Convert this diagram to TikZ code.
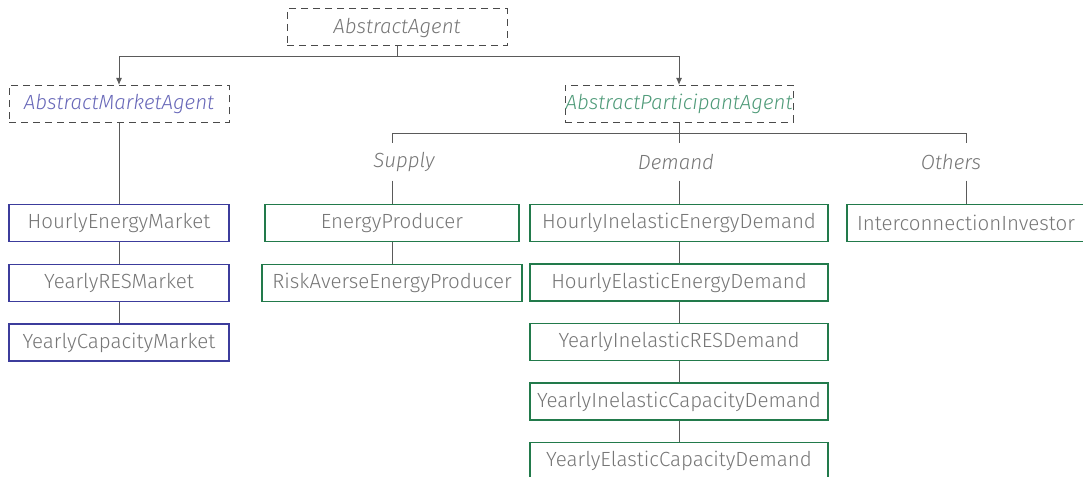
\documentclass[tikz,border=0pt]{standalone}
\usepackage{fontspec}
\setmainfont{Fira Sans}[UprightFont=* Light, ItalicFont=* Light Italic]
\usetikzlibrary{arrows.meta}
\definecolor{txtgray}{HTML}{767676}
\definecolor{dashgray}{HTML}{4A4A4A}
\definecolor{linegray}{HTML}{5A5A5A}
\definecolor{mktblue}{HTML}{3C3C9C}
\definecolor{mkttext}{HTML}{6767B8}
\definecolor{partgreen}{HTML}{227A4B}
\definecolor{parttext}{HTML}{4E9A78}
\newcommand{\boxfont}{\fontsize{20.5}{24}\selectfont}
\begin{document}
\begin{tikzpicture}[x=1pt,y=-1pt,>={Latex[length=7pt,width=6pt]},
    abstractbox/.style={draw=dashgray,line width=1pt,dash pattern=on 7pt off 5pt,minimum height=37pt,inner sep=0pt,font=\boxfont\itshape},
    marketbox/.style={draw=mktblue,line width=1.5pt,minimum height=37pt,inner sep=0pt,text=txtgray,font=\boxfont},
    agentbox/.style={draw=partgreen,line width=1.5pt,minimum height=37pt,inner sep=0pt,text=txtgray,font=\boxfont},
    grouplabel/.style={minimum height=37pt,inner sep=0pt,text=txtgray,font=\boxfont\itshape},
    link/.style={draw=linegray,line width=1pt}]
\useasboundingbox (0,0) rectangle (1083,476);
% abstract classes
\node[abstractbox,text=txtgray,minimum width=220pt] (agent) at (397,27.5){AbstractAgent};
\node[abstractbox,text=mkttext,minimum width=220pt] (market) at (119,104){AbstractMarketAgent};
\node[abstractbox,text=parttext,minimum width=228pt] (part) at (679,104){AbstractParticipantAgent};
\coordinate (split1) at (397,57);
\coordinate (split2) at (679,133);
\draw[link,->] (agent.south)--(split1)-|(market.north);
\draw[link,->] (split1)-|(part.north);
% markets
\node[marketbox,minimum width=220pt] (hem) at (119,223){HourlyEnergyMarket};
\node[marketbox,minimum width=220pt] (yrm) at (119,283){YearlyRESMarket};
\node[marketbox,minimum width=220pt] (ycm) at (119,342.5){YearlyCapacityMarket};
\draw[link] (market)--(hem);
\draw[link] (hem)--(yrm);
\draw[link] (yrm)--(ycm);
% participants
\node[grouplabel] (supply) at (404,162){Supply};
\node[grouplabel] (demand) at (676,162){Demand};
\node[grouplabel] (others) at (951,162){Others};
\node[agentbox,minimum width=254pt] (ep) at (392,223){EnergyProducer};
\node[agentbox,minimum width=260pt] (raep) at (392,283){RiskAverseEnergyProducer};
\node[agentbox,minimum width=298pt] (d1) at (679,223){HourlyInelasticEnergyDemand};
\node[agentbox,minimum width=298pt] (d2) at (679,282.5){HourlyElasticEnergyDemand};
\node[agentbox,minimum width=298pt] (d3) at (679,342){YearlyInelasticRESDemand};
\node[agentbox,minimum width=298pt] (d4) at (679,401.5){YearlyInelasticCapacityDemand};
\node[agentbox,minimum width=298pt] (d5) at (679,461){YearlyElasticCapacityDemand};
\node[agentbox,minimum width=238pt] (inv) at (966,223){InterconnectionInvestor};
\draw[link] (part.south)--(split2);
\draw[link] (split2)-|(ep.north|-supply.north);
\draw[link] (split2)--(d1.north|-demand.north);
\draw[link] (split2)-|(inv.north|-others.north);
\draw[link] (ep.north|-supply.south)--(ep.north);
\draw[link] (d1.north|-demand.south)--(d1.north);
\draw[link] (inv.north|-others.south)--(inv.north);
\draw[link] (ep)--(raep);
\draw[link] (d1)--(d2);
\draw[link] (d2)--(d3);
\draw[link] (d3)--(d4);
\draw[link] (d4)--(d5);
\end{tikzpicture}
\end{document}
